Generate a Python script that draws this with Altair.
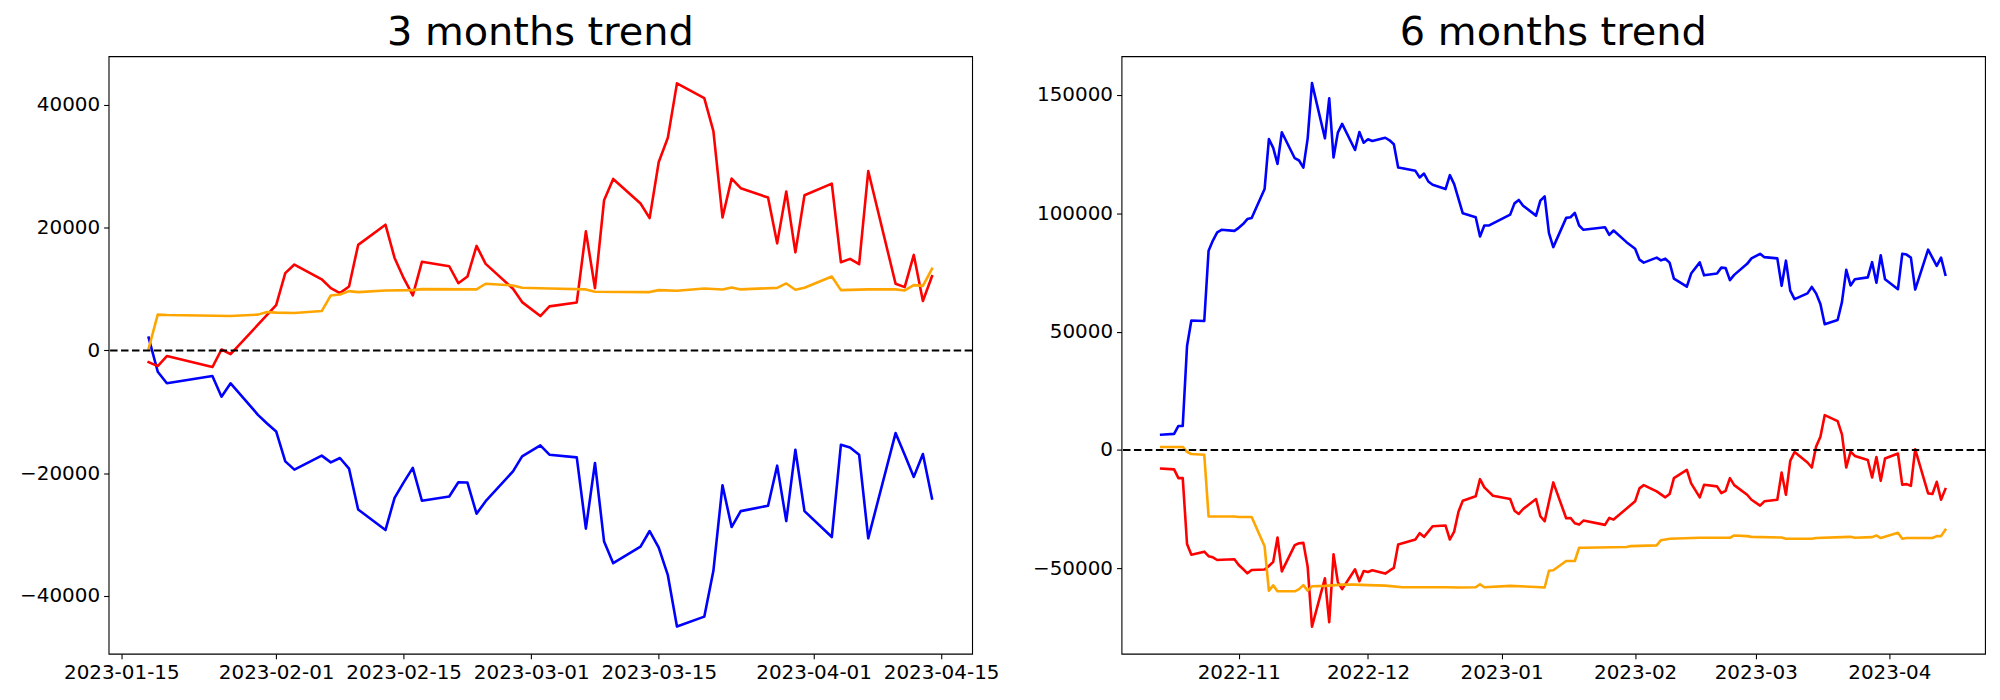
import altair as alt
import pandas as pd

# ---------------- 3 months trend (left panel) ----------------
m3_blue_dates = ["2023-01-18","2023-01-19","2023-01-20","2023-01-25","2023-01-26","2023-01-27","2023-01-30","2023-01-31",
    "2023-02-01","2023-02-02","2023-02-03","2023-02-06","2023-02-07","2023-02-08","2023-02-09","2023-02-10",
    "2023-02-13","2023-02-14","2023-02-15","2023-02-16","2023-02-17","2023-02-20","2023-02-21","2023-02-22",
    "2023-02-23","2023-02-24","2023-02-27","2023-02-28","2023-03-02","2023-03-03","2023-03-06","2023-03-07",
    "2023-03-08","2023-03-09","2023-03-10","2023-03-13","2023-03-14","2023-03-15","2023-03-16","2023-03-17",
    "2023-03-20","2023-03-21","2023-03-22","2023-03-23","2023-03-24","2023-03-27","2023-03-28","2023-03-29",
    "2023-03-30","2023-03-31","2023-04-03","2023-04-04","2023-04-05","2023-04-06","2023-04-07","2023-04-10",
    "2023-04-11","2023-04-12","2023-04-13","2023-04-14"]
m3_blue_vals = [2100,-3470,-5350,-4170,-7530,-5350,-10490,-11900,
    -13200,-18070,-19420,-17140,-18230,-17520,-19250,-25900,
    -29260,-24010,-21500,-19140,-24490,-23790,-21470,-21520,
    -26600,-24560,-19690,-17260,-15470,-16980,-17420,-29030,
    -18330,-31140,-34660,-31950,-29420,-32120,-36610,-44990,
    -43370,-35910,-21960,-28770,-26180,-25300,-18770,-27800,
    -16170,-26180,-30400,-15360,-15800,-16980,-30610,-13460,
    -17000,-20600,-16870,-24120]

m3_red_dates = ["2023-01-18","2023-01-19","2023-01-20","2023-01-25","2023-01-26","2023-01-27","2023-02-01","2023-02-02",
    "2023-02-03","2023-02-06","2023-02-07","2023-02-08","2023-02-09","2023-02-10","2023-02-13","2023-02-14",
    "2023-02-15","2023-02-16","2023-02-17","2023-02-20","2023-02-21","2023-02-22","2023-02-23","2023-02-24",
    "2023-02-27","2023-02-28","2023-03-02","2023-03-03","2023-03-06","2023-03-07","2023-03-08","2023-03-09",
    "2023-03-10","2023-03-13","2023-03-14","2023-03-15","2023-03-16","2023-03-17","2023-03-20","2023-03-21",
    "2023-03-22","2023-03-23","2023-03-24","2023-03-27","2023-03-28","2023-03-29","2023-03-30","2023-03-31",
    "2023-04-03","2023-04-04","2023-04-05","2023-04-06","2023-04-07","2023-04-10","2023-04-11","2023-04-12",
    "2023-04-13","2023-04-14"]
m3_red_vals = [-1900,-2550,-920,-2700,160,-600,7400,12600,
    14000,11600,10150,9340,10430,17200,20490,15080,
    11780,8970,14440,13720,10960,12050,17030,14110,
    10060,7880,5610,7180,7830,19400,10150,24490,
    27950,23940,21570,30700,34650,43520,41130,35730,
    21670,28000,26440,24910,17450,25890,15990,25300,
    27180,14370,14920,14050,29240,10870,10320,15570,
    8050,12100]

m3_orange_dates = ["2023-01-18","2023-01-19","2023-01-20","2023-01-27","2023-01-30","2023-01-31","2023-02-01","2023-02-03",
    "2023-02-06","2023-02-07","2023-02-08","2023-02-09","2023-02-10","2023-02-13","2023-02-16","2023-02-17",
    "2023-02-23","2023-02-24","2023-02-27","2023-02-28","2023-03-03","2023-03-07","2023-03-08","2023-03-14",
    "2023-03-15","2023-03-17","2023-03-20","2023-03-22","2023-03-23","2023-03-24","2023-03-28","2023-03-29",
    "2023-03-30","2023-03-31","2023-04-03","2023-04-04","2023-04-07","2023-04-10","2023-04-11","2023-04-12",
    "2023-04-13","2023-04-14"]
m3_orange_vals = [300,5840,5780,5610,5840,6260,6160,6100,
    6420,8970,9130,9670,9500,9780,9830,10000,
    9950,10870,10590,10220,10100,9950,9570,9510,
    9830,9730,10100,9940,10260,9950,10200,10920,
    9890,10220,12050,9830,9950,9950,9780,10640,
    10530,13300]

# ---------------- 6 months trend (right panel) ----------------
m6_blue_dates = ["2022-10-14","2022-10-17","2022-10-18","2022-10-19","2022-10-20","2022-10-21","2022-10-24","2022-10-25",
    "2022-10-26","2022-10-27","2022-10-28","2022-10-31","2022-11-01","2022-11-02","2022-11-03","2022-11-04",
    "2022-11-07","2022-11-08","2022-11-09","2022-11-10","2022-11-11","2022-11-14","2022-11-15","2022-11-16",
    "2022-11-17","2022-11-18","2022-11-21","2022-11-22","2022-11-23","2022-11-24","2022-11-25","2022-11-28",
    "2022-11-29","2022-11-30","2022-12-01","2022-12-02","2022-12-05","2022-12-06","2022-12-07","2022-12-08",
    "2022-12-09","2022-12-12","2022-12-13","2022-12-14","2022-12-15","2022-12-16","2022-12-19","2022-12-20",
    "2022-12-21","2022-12-23","2022-12-26","2022-12-27","2022-12-28","2022-12-29","2023-01-03","2023-01-04",
    "2023-01-05","2023-01-06","2023-01-09","2023-01-10","2023-01-11","2023-01-12","2023-01-13","2023-01-16",
    "2023-01-17","2023-01-18","2023-01-19","2023-01-20","2023-01-25","2023-01-26","2023-01-27","2023-01-30",
    "2023-02-01","2023-02-02","2023-02-03","2023-02-06","2023-02-07","2023-02-08","2023-02-09","2023-02-10",
    "2023-02-13","2023-02-14","2023-02-16","2023-02-17","2023-02-20","2023-02-21","2023-02-22","2023-02-23",
    "2023-02-24","2023-02-27","2023-02-28","2023-03-02","2023-03-03","2023-03-06","2023-03-07","2023-03-08",
    "2023-03-09","2023-03-10","2023-03-13","2023-03-14","2023-03-15","2023-03-16","2023-03-17","2023-03-20",
    "2023-03-21","2023-03-22","2023-03-23","2023-03-24","2023-03-27","2023-03-28","2023-03-29","2023-03-30",
    "2023-03-31","2023-04-03","2023-04-04","2023-04-05","2023-04-06","2023-04-07","2023-04-10","2023-04-12",
    "2023-04-13","2023-04-14"]
m6_blue_vals = [6470,6800,10170,10170,43950,54750,54500,84200,
    88500,91940,93030,92570,93870,95470,97570,98030,
    110260,131350,127660,120890,134250,123290,122320,119300,
    131690,155010,131690,148580,123620,134090,137780,126770,
    134340,129840,131270,130560,131940,130850,129170,119340,
    119080,117950,115140,116820,113450,112070,110260,116140,
    112360,100010,98330,90220,94840,94840,99460,104210,
    105640,103240,99040,105350,107150,91600,85720,98070,
    98330,100170,94840,93030,94130,90930,92740,87820,
    85050,80430,79170,81270,80130,80840,79170,72440,
    69000,74540,79270,73800,74540,77060,76900,71800,
    74000,78650,80970,82900,81480,80970,69370,80000,
    67320,63740,66180,68910,66180,61680,53150,54920,
    62480,76140,69540,72150,72950,79370,70680,82280,
    72150,67950,82900,82570,81310,67780,84670,77780,
    81310,74040]

m6_red_dates = ["2022-10-14","2022-10-17","2022-10-18","2022-10-19","2022-10-20","2022-10-21","2022-10-24","2022-10-25",
    "2022-10-26","2022-10-27","2022-10-28","2022-10-31","2022-11-01","2022-11-02","2022-11-03","2022-11-04",
    "2022-11-07","2022-11-08","2022-11-09","2022-11-10","2022-11-11","2022-11-14","2022-11-15","2022-11-16",
    "2022-11-17","2022-11-18","2022-11-21","2022-11-22","2022-11-23","2022-11-24","2022-11-25","2022-11-28",
    "2022-11-29","2022-11-30","2022-12-01","2022-12-02","2022-12-05","2022-12-06","2022-12-07","2022-12-08",
    "2022-12-12","2022-12-13","2022-12-14","2022-12-15","2022-12-16","2022-12-19","2022-12-20","2022-12-21",
    "2022-12-22","2022-12-23","2022-12-26","2022-12-27","2022-12-28","2022-12-30","2023-01-03","2023-01-04",
    "2023-01-05","2023-01-06","2023-01-09","2023-01-10","2023-01-11","2023-01-13","2023-01-16","2023-01-17",
    "2023-01-18","2023-01-19","2023-01-20","2023-01-25","2023-01-26","2023-01-27","2023-02-01","2023-02-02",
    "2023-02-03","2023-02-06","2023-02-08","2023-02-09","2023-02-10","2023-02-13","2023-02-14","2023-02-16",
    "2023-02-17","2023-02-20","2023-02-21","2023-02-22","2023-02-23","2023-02-24","2023-02-27","2023-02-28",
    "2023-03-02","2023-03-03","2023-03-06","2023-03-07","2023-03-08","2023-03-09","2023-03-10","2023-03-13",
    "2023-03-14","2023-03-15","2023-03-16","2023-03-17","2023-03-20","2023-03-21","2023-03-22","2023-03-23",
    "2023-03-24","2023-03-27","2023-03-28","2023-03-29","2023-03-30","2023-03-31","2023-04-03","2023-04-04",
    "2023-04-05","2023-04-06","2023-04-07","2023-04-10","2023-04-11","2023-04-12","2023-04-13","2023-04-14"]
m6_red_vals = [-7860,-8190,-11890,-11890,-39710,-44250,-42950,-44880,
    -45340,-46470,-46400,-46180,-48570,-50300,-52100,-50680,
    -50510,-49000,-47270,-36980,-51310,-40210,-39410,-39250,
    -49370,-74630,-54210,-72740,-44080,-55800,-58800,-50420,
    -55460,-51100,-51520,-50840,-52230,-51000,-49840,-39920,
    -37820,-35130,-36680,-34500,-32190,-31930,-37820,-34460,
    -26050,-21430,-19580,-12310,-15800,-19330,-20720,-25630,
    -27020,-24920,-20720,-27990,-30090,-13700,-28830,-28700,
    -30930,-31520,-29830,-31640,-28700,-29410,-21680,-16220,
    -14830,-17480,-20000,-18610,-11890,-8400,-14120,-20000,
    -14710,-15380,-18190,-17230,-11890,-14830,-18910,-21010,
    -23530,-21680,-21010,-9500,-18910,-4620,-840,-5290,
    -7400,1430,5630,14710,12190,6600,-7400,-670,
    -2520,-4200,-11600,-2940,-13030,-3610,-1510,-14710,
    -14410,-15130,290,-18320,-18610,-13450,-21010,-16510]

m6_orange_dates = ["2022-10-14","2022-10-19","2022-10-20","2022-10-21","2022-10-24","2022-10-25","2022-10-31","2022-11-01",
    "2022-11-04","2022-11-07","2022-11-08","2022-11-09","2022-11-10","2022-11-14","2022-11-15","2022-11-16",
    "2022-11-17","2022-11-18","2022-11-21","2022-11-25","2022-11-28","2022-12-01","2022-12-05","2022-12-09",
    "2022-12-19","2022-12-22","2022-12-26","2022-12-27","2022-12-28","2023-01-03","2023-01-09","2023-01-11",
    "2023-01-12","2023-01-13","2023-01-16","2023-01-18","2023-01-19","2023-01-20","2023-01-30","2023-01-31",
    "2023-02-06","2023-02-07","2023-02-09","2023-02-16","2023-02-23","2023-02-24","2023-02-27","2023-02-28",
    "2023-03-07","2023-03-08","2023-03-14","2023-03-15","2023-03-21","2023-03-23","2023-03-24","2023-03-28",
    "2023-03-29","2023-03-30","2023-04-03","2023-04-04","2023-04-05","2023-04-11","2023-04-12","2023-04-13",
    "2023-04-14"]
m6_orange_vals = [1300,1300,-800,-1700,-2000,-28100,-28100,-28300,
    -28300,-40700,-59500,-57200,-59700,-59700,-58800,-57100,
    -59400,-57600,-57400,-56900,-56900,-57100,-57300,-58000,
    -58000,-58100,-58000,-56700,-58000,-57400,-57900,-58100,
    -51000,-50800,-46900,-46900,-41300,-41300,-41000,-40600,
    -40300,-38100,-37500,-37100,-37100,-36100,-36400,-36700,
    -37000,-37500,-37500,-37200,-36800,-36700,-37100,-36800,
    -36100,-37200,-35000,-37500,-37200,-37200,-36400,-36400,
    -33700]

left_title = "3 months trend"
right_title = "6 months trend"
left_yticks = [-40000, -20000, 0, 20000, 40000]
right_yticks = [-50000, 0, 50000, 100000, 150000]

FONT = "DejaVu Sans"


def frame(dates, vals):
    return pd.DataFrame({"date": [d + "T00:00:00" for d in dates], "value": vals})


def dt(y, m, d, h=0, mi=0):
    return alt.DateTime(year=y, month=m, date=d, hours=h, minutes=mi)


def axis_style(**kw):
    return alt.Axis(title=None, grid=False, domain=False,
                    tickColor="black", tickSize=5, tickWidth=1.1,
                    labelFont=FONT, labelFontSize=20, labelColor="black", labelPadding=4, **kw)


def panel(title, series, xdomain, xticks, xfmt, ydomain, yticks):
    xenc = alt.X("date:T",
                 scale=alt.Scale(domain=xdomain),
                 axis=axis_style(values=xticks, format=xfmt, labelAngle=0,
                                 labelOverlap=False, labelFlush=False))
    yenc = alt.Y("value:Q",
                 scale=alt.Scale(domain=ydomain, nice=False, zero=False),
                 axis=axis_style(values=yticks, format="d"))
    layers = []
    for dates, vals, color in series:
        layers.append(
            alt.Chart(frame(dates, vals)).mark_line(
                color=color, strokeWidth=2.6, strokeJoin="round", strokeCap="square", clip=True
            ).encode(x=xenc, y=yenc)
        )
    zero = alt.Chart(pd.DataFrame({"value": [0]})).mark_rule(
        color="black", strokeWidth=2, strokeDash=[7.5, 3.5]
    ).encode(y=alt.Y("value:Q"))
    return alt.layer(*layers, zero).properties(
        width=867, height=600,
        title=alt.TitleParams(title, fontSize=40, font=FONT, fontWeight="normal",
                              color="black", anchor="middle", offset=3),
    )


left = panel(
    left_title,
    [(m3_blue_dates, m3_blue_vals, "blue"),
     (m3_red_dates, m3_red_vals, "red"),
     (m3_orange_dates, m3_orange_vals, "orange")],
    [dt(2023, 1, 13, 14, 30), dt(2023, 4, 18, 9, 40)],
    [dt(2023, 1, 15), dt(2023, 2, 1), dt(2023, 2, 15), dt(2023, 3, 1),
     dt(2023, 3, 15), dt(2023, 4, 1), dt(2023, 4, 15)],
    "%Y-%m-%d",
    [-49420, 47950],
    left_yticks,
)

right = panel(
    right_title,
    [(m6_blue_dates, m6_blue_vals, "blue"),
     (m6_red_dates, m6_red_vals, "red"),
     (m6_orange_dates, m6_orange_vals, "orange")],
    [dt(2022, 10, 4, 19, 0), dt(2023, 4, 23, 5, 0)],
    [dt(2022, 11, 1), dt(2022, 12, 1), dt(2023, 1, 1), dt(2023, 2, 1),
     dt(2023, 3, 1), dt(2023, 4, 1)],
    "%Y-%m",
    [-86100, 166400],
    right_yticks,
)

chart = alt.hconcat(left, right, spacing=150, bounds="flush").properties(
    padding={"left": 11, "top": 3, "right": 5, "bottom": 5}
).configure_view(
    stroke="black", strokeWidth=1.1
)

chart.save("out.html", embed_options={"renderer": "svg", "actions": False})
